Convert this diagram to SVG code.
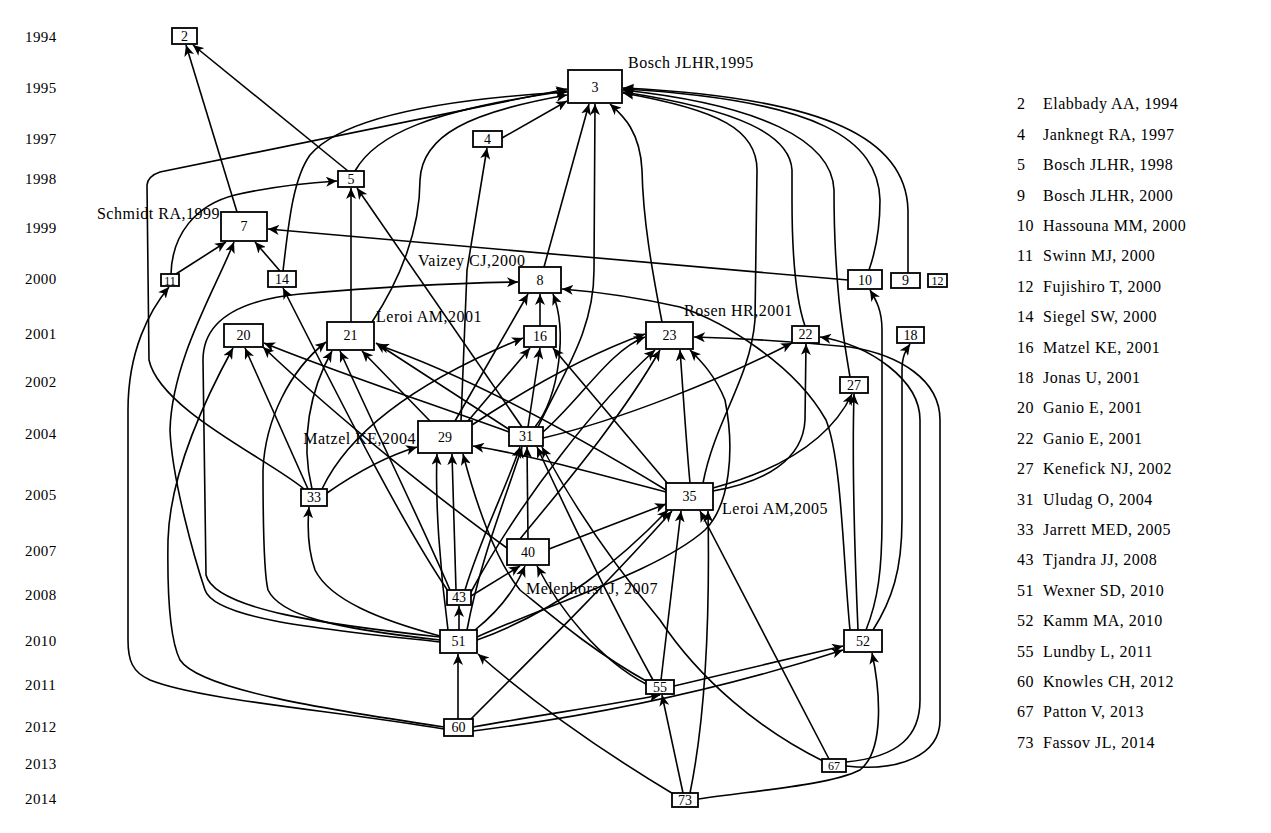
<svg xmlns="http://www.w3.org/2000/svg" width="1271" height="833" viewBox="0 0 1271 833">
<style>
.bg{fill:#fff}
.n rect{fill:#fff;stroke:#000;stroke-width:1.8}
.n text{font-family:"Liberation Serif",serif;font-size:14px;text-anchor:middle;fill:#000}
.n text.s{font-size:12px}
.e path{fill:none;stroke:#000;stroke-width:1.6;marker-end:url(#ah)}
.lab{font-family:"Liberation Serif",serif;font-size:16px;letter-spacing:0.5px;fill:#000}
.yr{font-family:"Liberation Serif",serif;font-size:15px;letter-spacing:0.4px;fill:#000}
.lg{font-family:"Liberation Serif",serif;font-size:16px;letter-spacing:0.5px;fill:#000}
</style>
<defs>
<marker id="ah" markerWidth="12" markerHeight="10" refX="11" refY="5" orient="auto" markerUnits="userSpaceOnUse">
<path d="M0,0 L11,5 L0,10 L3,5 z" fill="#000"/>
</marker>
</defs>
<rect class="bg" x="0" y="0" width="1271" height="833"/>

<g id="years" class="yr">
<text x="25" y="42">1994</text><text x="25" y="93">1995</text><text x="25" y="144">1997</text>
<text x="25" y="184">1998</text><text x="25" y="233">1999</text><text x="25" y="284">2000</text>
<text x="25" y="339">2001</text><text x="25" y="387">2002</text><text x="25" y="439">2004</text>
<text x="25" y="500">2005</text><text x="25" y="556">2007</text><text x="25" y="600">2008</text>
<text x="25" y="646">2010</text><text x="25" y="690">2011</text><text x="25" y="732">2012</text>
<text x="25" y="769">2013</text><text x="25" y="804">2014</text>
</g>

<g id="connectors" class="e">
<path d="M237,212 L186,45"/>
<path d="M348,171 L193,45"/>
<path d="M304,489 C270,460 160,410 149,360 L147,185 Q148,176 160,172 L567,89"/>
<path d="M355,171 C375,135 430,110 567,91"/>
<path d="M283,271 C288,230 292,180 310,155 C340,120 430,100 567,92"/>
<path d="M372,322 C400,280 420,230 420,180 C422,135 470,112 567,95"/>
<path d="M502,138 L567,101"/>
<path d="M544,267 L589,104"/>
<path d="M538,427 C565,370 594,330 594,270 L595,104"/>
<path d="M662,322 C652,270 643,220 642,170 C640,130 622,115 610,104"/>
<path d="M703,483 C715,420 750,380 755,320 L757,170 C757,130 720,110 623,93"/>
<path d="M805,326 C796,300 792,260 792,200 L792,170 C790,135 740,110 623,92"/>
<path d="M850,377 C842,330 834,280 834,190 C832,140 760,105 623,90"/>
<path d="M869,270 C876,250 880,230 880,200 C878,140 820,100 623,89"/>
<path d="M908,273 L908,210 C906,140 830,98 623,88"/>
<path d="M461,421 L467,270 L487,148"/>
<path d="M171,274 C172,235 195,205 235,195 C270,187 305,183 337,181"/>
<path d="M351,322 L351,188"/>
<path d="M522,427 L357,188"/>
<path d="M176,274 L226,242"/>
<path d="M280,271 L255,242"/>
<path d="M848,280 L268,229"/>
<path d="M440,642 C330,630 215,620 205,590 C195,560 172,480 170,430 C172,360 215,290 234,242"/>
<path d="M444,727 C330,710 200,690 180,660 C170,640 167,600 168,540 C170,470 210,390 233,348"/>
<path d="M444,729 C330,710 200,700 150,680 C132,672 128,660 128,640 L128,410 C128,350 150,310 169,287"/>
<path d="M540,326 L540,294"/>
<path d="M440,637 C330,625 215,610 206,575 L203,360 C203,320 240,300 300,294 C380,287 450,283 518,282"/>
<path d="M455,421 L528,294"/>
<path d="M535,427 C560,395 567,330 553,294"/>
<path d="M850,630 C843,560 842,460 826,420 C795,365 725,322 680,307 C640,298 600,292 562,289"/>
<path d="M866,630 C878,600 882,570 882,520 L882,330 C882,310 876,300 870,290"/>
<path d="M873,630 C892,600 902,570 902,520 L902,370 C902,356 906,350 910,344"/>
<path d="M858,630 C855,560 852,460 854,394"/>
<path d="M713,488 C780,470 830,440 852,394"/>
<path d="M713,491 C765,482 803,460 805,420 L806,344"/>
<path d="M846,762 C900,757 920,735 920,700 L920,420 C920,380 870,345 820,337"/>
<path d="M846,766 C900,772 940,755 940,720 L940,420 C940,380 900,355 850,347 C780,340 730,338 694,337"/>
<path d="M543,438 C620,420 720,380 792,343"/>
<path d="M543,432 C580,400 610,350 645,337"/>
<path d="M690,483 C686,440 683,390 680,350"/>
<path d="M520,539 C560,490 620,420 660,350"/>
<path d="M471,592 C520,500 600,400 655,350"/>
<path d="M477,637 C560,600 660,570 705,530 C730,505 735,450 725,400 C715,375 700,360 690,350"/>
<path d="M472,425 C540,380 600,350 645,334"/>
<path d="M468,421 L530,348"/>
<path d="M528,427 L540,348"/>
<path d="M668,484 L553,348"/>
<path d="M322,489 C350,430 420,380 523,338"/>
<path d="M312,489 C300,440 310,390 332,351"/>
<path d="M430,421 L362,351"/>
<path d="M510,430 L376,343"/>
<path d="M666,490 C600,450 480,380 378,345"/>
<path d="M440,640 C330,628 280,615 268,590 C263,570 263,500 263,470 C265,420 290,370 326,342"/>
<path d="M450,590 C420,520 380,440 340,351"/>
<path d="M448,591 C400,520 340,400 283,288"/>
<path d="M308,489 L245,348"/>
<path d="M509,432 C420,400 330,370 264,343"/>
<path d="M507,548 C440,500 340,420 263,347"/>
<path d="M327,493 C360,470 390,455 417,447"/>
<path d="M448,630 C440,570 435,500 437,454"/>
<path d="M456,590 L452,454"/>
<path d="M666,492 C600,475 530,455 473,446"/>
<path d="M648,682 C590,650 545,610 520,590 C495,560 475,500 463,454"/>
<path d="M467,630 C480,560 505,500 522,447"/>
<path d="M465,590 C480,540 505,490 520,447"/>
<path d="M528,539 L527,447"/>
<path d="M653,680 C620,620 580,540 537,447"/>
<path d="M823,761 C760,730 700,680 660,620 C610,560 570,500 542,447"/>
<path d="M440,636 C380,620 330,600 315,570 C308,550 307,530 309,507"/>
<path d="M549,549 L666,504"/>
<path d="M477,640 C560,610 620,560 668,510"/>
<path d="M661,680 L681,511"/>
<path d="M690,793 C705,720 710,620 708,511"/>
<path d="M829,759 L700,511"/>
<path d="M470,720 C550,640 620,570 672,511"/>
<path d="M471,596 L520,566"/>
<path d="M475,630 C500,610 515,590 525,566"/>
<path d="M646,684 C600,660 560,610 537,566"/>
<path d="M459,630 L459,606"/>
<path d="M458,719 L458,654"/>
<path d="M675,795 C600,750 530,700 478,654"/>
<path d="M473,727 C540,715 610,705 660,695"/>
<path d="M674,686 L843,646"/>
<path d="M473,731 C600,715 720,690 843,650"/>
<path d="M683,793 L662,695"/>
<path d="M698,799 C760,790 830,785 860,770 C885,750 880,690 872,653"/>
</g>

<g id="n2" class="n"><rect x="172" y="28" width="25" height="16"/><text x="184.5" y="41">2</text></g>
<g id="n3" class="n"><rect x="568" y="70" width="54" height="33"/><text x="595" y="92">3</text></g>
<g id="n4" class="n"><rect x="473" y="131" width="29" height="16"/><text x="487.5" y="144">4</text></g>
<g id="n5" class="n"><rect x="338" y="171" width="26" height="16"/><text x="351" y="184">5</text></g>
<g id="n7" class="n"><rect x="221" y="212" width="46" height="29"/><text x="244" y="231">7</text></g>
<g id="n11" class="n"><rect x="161" y="274" width="18" height="12"/><text class="s" x="170" y="284.5">11</text></g>
<g id="n14" class="n"><rect x="268" y="271" width="28" height="16"/><text x="282" y="284">14</text></g>
<g id="n8" class="n"><rect x="519" y="267" width="42" height="26"/><text x="540" y="285">8</text></g>
<g id="n10" class="n"><rect x="848" y="270" width="34" height="19"/><text x="865" y="285">10</text></g>
<g id="n9" class="n"><rect x="891" y="273" width="29" height="15"/><text x="905.5" y="285">9</text></g>
<g id="n12" class="n"><rect x="928" y="274" width="19" height="13"/><text class="s" x="937.5" y="285">12</text></g>
<g id="n20" class="n"><rect x="224" y="324" width="39" height="23"/><text x="243.5" y="340">20</text></g>
<g id="n21" class="n"><rect x="327" y="322" width="47" height="28"/><text x="350.5" y="340">21</text></g>
<g id="n16" class="n"><rect x="524" y="326" width="32" height="21"/><text x="540" y="341">16</text></g>
<g id="n23" class="n"><rect x="646" y="322" width="47" height="27"/><text x="669.5" y="340">23</text></g>
<g id="n22" class="n"><rect x="792" y="326" width="27" height="17"/><text x="805.5" y="339">22</text></g>
<g id="n18" class="n"><rect x="897" y="327" width="27" height="16"/><text x="910.5" y="340">18</text></g>
<g id="n27" class="n"><rect x="840" y="377" width="28" height="16"/><text x="854" y="390">27</text></g>
<g id="n29" class="n"><rect x="418" y="421" width="54" height="32"/><text x="445" y="442">29</text></g>
<g id="n31" class="n"><rect x="509" y="427" width="34" height="19"/><text x="526" y="441">31</text></g>
<g id="n33" class="n"><rect x="301" y="489" width="26" height="17"/><text x="314" y="502">33</text></g>
<g id="n35" class="n"><rect x="666" y="483" width="47" height="27"/><text x="689.5" y="501">35</text></g>
<g id="n40" class="n"><rect x="507" y="539" width="42" height="26"/><text x="528" y="557">40</text></g>
<g id="n43" class="n"><rect x="447" y="590" width="24" height="15"/><text x="459" y="602">43</text></g>
<g id="n51" class="n"><rect x="440" y="630" width="37" height="23"/><text x="458.5" y="646">51</text></g>
<g id="n52" class="n"><rect x="844" y="630" width="38" height="22"/><text x="863" y="646">52</text></g>
<g id="n55" class="n"><rect x="646" y="680" width="28" height="14"/><text x="660" y="692">55</text></g>
<g id="n60" class="n"><rect x="444" y="719" width="29" height="17"/><text x="458.5" y="732">60</text></g>
<g id="n67" class="n"><rect x="822" y="759" width="24" height="13"/><text class="s" x="834" y="770">67</text></g>
<g id="n73" class="n"><rect x="672" y="793" width="26" height="14"/><text x="685" y="805">73</text></g>

<g id="labels" class="lab">
<text x="628" y="68">Bosch JLHR,1995</text>
<text x="220" y="219" text-anchor="end">Schmidt RA,1999</text>
<text x="418" y="266">Vaizey CJ,2000</text>
<text x="376" y="322">Leroi AM,2001</text>
<text x="684" y="316">Rosen HR,2001</text>
<text x="416" y="444" text-anchor="end">Matzel KE,2004</text>
<text x="722" y="514">Leroi AM,2005</text>
<text x="526" y="594">Melenhorst J, 2007</text>
</g>

<g id="legend" class="lg">
<text x="1017" y="109">2</text><text x="1043" y="109">Elabbady AA, 1994</text>
<text x="1017" y="140">4</text><text x="1043" y="140">Janknegt RA, 1997</text>
<text x="1017" y="170">5</text><text x="1043" y="170">Bosch JLHR, 1998</text>
<text x="1017" y="201">9</text><text x="1043" y="201">Bosch JLHR, 2000</text>
<text x="1017" y="231">10</text><text x="1043" y="231">Hassouna MM, 2000</text>
<text x="1017" y="261">11</text><text x="1043" y="261">Swinn MJ, 2000</text>
<text x="1017" y="292">12</text><text x="1043" y="292">Fujishiro T, 2000</text>
<text x="1017" y="322">14</text><text x="1043" y="322">Siegel SW, 2000</text>
<text x="1017" y="353">16</text><text x="1043" y="353">Matzel KE, 2001</text>
<text x="1017" y="383">18</text><text x="1043" y="383">Jonas U, 2001</text>
<text x="1017" y="413">20</text><text x="1043" y="413">Ganio E, 2001</text>
<text x="1017" y="444">22</text><text x="1043" y="444">Ganio E, 2001</text>
<text x="1017" y="474">27</text><text x="1043" y="474">Kenefick NJ, 2002</text>
<text x="1017" y="505">31</text><text x="1043" y="505">Uludag O, 2004</text>
<text x="1017" y="535">33</text><text x="1043" y="535">Jarrett MED, 2005</text>
<text x="1017" y="565">43</text><text x="1043" y="565">Tjandra JJ, 2008</text>
<text x="1017" y="596">51</text><text x="1043" y="596">Wexner SD, 2010</text>
<text x="1017" y="626">52</text><text x="1043" y="626">Kamm MA, 2010</text>
<text x="1017" y="657">55</text><text x="1043" y="657">Lundby L, 2011</text>
<text x="1017" y="687">60</text><text x="1043" y="687">Knowles CH, 2012</text>
<text x="1017" y="717">67</text><text x="1043" y="717">Patton V, 2013</text>
<text x="1017" y="748">73</text><text x="1043" y="748">Fassov JL, 2014</text>
</g>
</svg>
